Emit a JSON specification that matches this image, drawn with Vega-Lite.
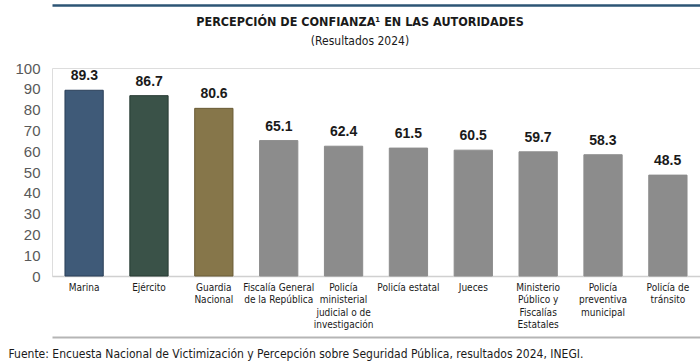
{
  "$schema": "https://vega.github.io/schema/vega-lite/v6.json",
  "autosize": "none",
  "width": 648,
  "height": 208,
  "padding": {"left": 52, "top": 68, "right": 0, "bottom": 86},
  "background": "white",
  "title": {
    "text": "PERCEPCIÓN DE CONFIANZA¹ EN LAS AUTORIDADES",
    "subtitle": "(Resultados 2024)",
    "anchor": "middle",
    "frame": "group",
    "dx": -16,
    "offset": -42,
    "font": "DejaVu Sans Condensed, sans-serif",
    "fontSize": 12.5,
    "fontWeight": "bold",
    "color": "#1a1a1a",
    "subtitleFont": "DejaVu Sans Condensed, sans-serif",
    "subtitleFontSize": 12,
    "subtitleColor": "#1a1a1a",
    "subtitlePadding": 8
  },
  "data": {
    "values": [
      {"autoridad": "Marina", "confianza": 89.3, "grupo": "Marina"},
      {"autoridad": "Ejército", "confianza": 86.7, "grupo": "Ejército"},
      {"autoridad": "Guardia|Nacional", "confianza": 80.6, "grupo": "Guardia Nacional"},
      {"autoridad": "Fiscalía General|de la República", "confianza": 65.1, "grupo": "Otras"},
      {"autoridad": "Policía|ministerial|judicial o de|investigación", "confianza": 62.4, "grupo": "Otras"},
      {"autoridad": "Policía estatal", "confianza": 61.5, "grupo": "Otras"},
      {"autoridad": "Jueces", "confianza": 60.5, "grupo": "Otras"},
      {"autoridad": "Ministerio|Público y|Fiscalías|Estatales", "confianza": 59.7, "grupo": "Otras"},
      {"autoridad": "Policía|preventiva|municipal", "confianza": 58.3, "grupo": "Otras"},
      {"autoridad": "Policía de|tránsito", "confianza": 48.5, "grupo": "Otras"}
    ]
  },
  "encoding": {
    "y": {
      "field": "confianza",
      "type": "quantitative",
      "scale": {"domain": [0, 100]},
      "axis": {
        "values": [0, 10, 20, 30, 40, 50, 60, 70, 80, 90, 100],
        "title": null,
        "grid": false,
        "domain": false,
        "ticks": false,
        "labelPadding": 12,
        "labelFont": "Liberation Sans, Arial, sans-serif",
        "labelFontSize": 15,
        "labelColor": "#595959"
      }
    }
  },
  "layer": [
    {
      "mark": {"type": "bar"},
      "encoding": {
        "x": {
          "field": "autoridad",
          "type": "nominal",
          "sort": null,
          "scale": {"paddingInner": 0.41, "paddingOuter": 0.2},
          "axis": {
            "labelAngle": 0,
            "labelExpr": "split(datum.label, '|')",
            "labelFont": "DejaVu Sans Condensed, sans-serif",
            "labelFontSize": 10,
            "labelColor": "#1a1a1a",
            "labelBaseline": "top",
            "labelLineHeight": 12.5,
            "labelPadding": 6,
            "labelLimit": 200,
            "ticks": false,
            "domainColor": "#d0d0d0",
            "domainWidth": 1.5,
            "title": "Fuente: Encuesta Nacional de Victimización y Percepción sobre Seguridad Pública, resultados 2024, INEGI.",
            "titleFont": "DejaVu Sans Condensed, sans-serif",
            "titleFontSize": 12,
            "titleFontWeight": "normal",
            "titleColor": "#1a1a1a",
            "titleAnchor": "start",
            "titleAlign": "left",
            "titleBaseline": "alphabetic",
            "titleX": -44,
            "titleY": 81
          }
        },
        "color": {
          "field": "grupo",
          "type": "nominal",
          "scale": {
            "domain": ["Marina", "Ejército", "Guardia Nacional", "Otras"],
            "range": ["#3f5a78", "#3a5248", "#86764a", "#8c8c8c"]
          },
          "legend": null
        }
      }
    },
    {
      "mark": {"type": "bar", "fillOpacity": 0, "strokeWidth": 1},
      "encoding": {
        "x": {
          "field": "autoridad",
          "type": "nominal",
          "sort": null,
          "scale": {"paddingInner": 0.41, "paddingOuter": 0.2},
          "axis": {
            "orient": "top",
            "offset": 63,
            "labels": false,
            "ticks": false,
            "title": null,
            "domainColor": "#2d5575",
            "domainWidth": 2.5
          }
        },
        "stroke": {
          "field": "grupo",
          "type": "nominal",
          "scale": {
            "domain": ["Marina", "Ejército", "Guardia Nacional", "Otras"],
            "range": ["#2a3f58", "#263a32", "#6a5c36", "#8c8c8c"]
          },
          "legend": null
        }
      }
    },
    {
      "mark": {
        "type": "text",
        "baseline": "bottom",
        "dy": -7,
        "font": "Liberation Sans, Arial, sans-serif",
        "fontSize": 14,
        "fontWeight": "bold",
        "color": "#1a1a1a"
      },
      "encoding": {
        "x": {
          "field": "autoridad",
          "type": "nominal",
          "sort": null,
          "scale": {"paddingInner": 0.41, "paddingOuter": 0.2},
          "axis": {
            "orient": "bottom",
            "offset": 61,
            "labels": false,
            "ticks": false,
            "title": null,
            "domainColor": "#b5b5b5",
            "domainWidth": 2
          }
        },
        "text": {"field": "confianza", "type": "quantitative", "format": ".1f"}
      }
    }
  ],
  "resolve": {"scale": {"x": "independent", "stroke": "independent"}, "axis": {"x": "independent"}}
}
